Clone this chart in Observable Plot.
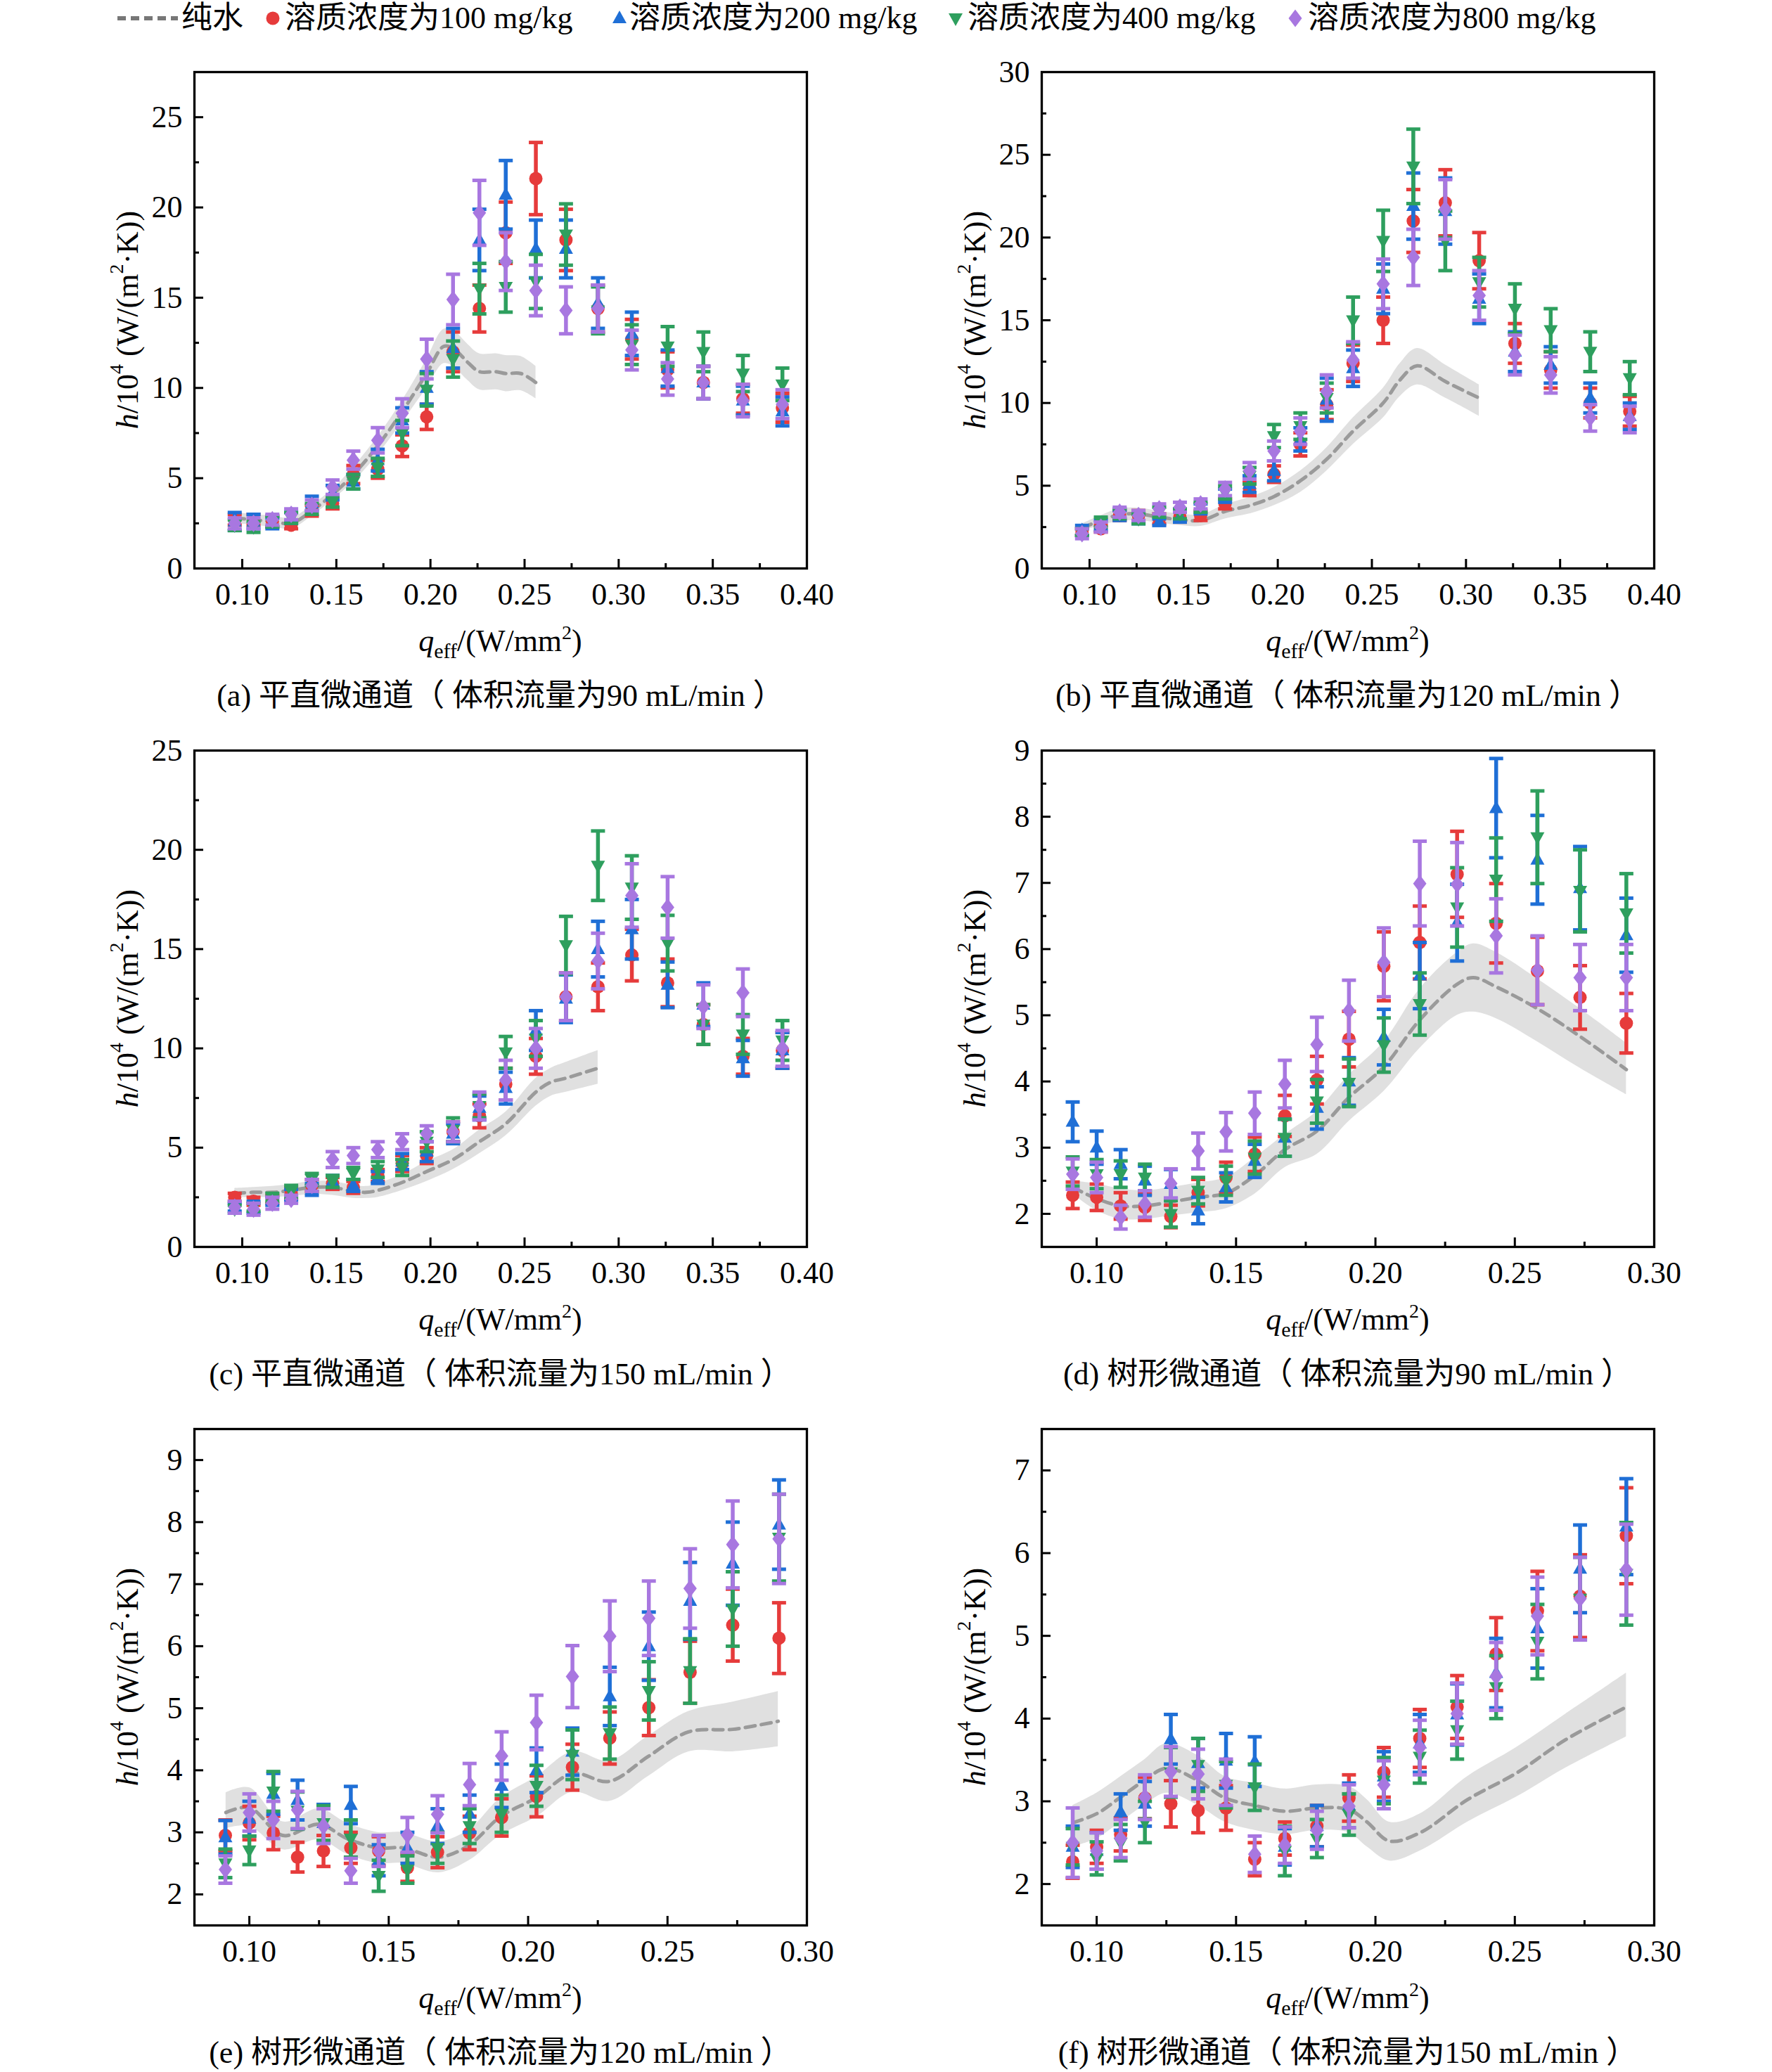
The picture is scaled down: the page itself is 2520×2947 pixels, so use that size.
<!DOCTYPE html>
<html><head><meta charset="utf-8">
<script src="https://cdn.jsdelivr.net/npm/d3@7"></script>
<script src="https://cdn.jsdelivr.net/npm/@observablehq/plot@0.6"></script>
<style>
html,body{margin:0;padding:0;background:#fff;}
#page{position:relative;width:2520px;height:2947px;overflow:hidden;font-family:"Liberation Serif","Noto Sans CJK SC",serif;color:#000;background:#fff;}
.panel{position:absolute;}
.caption{position:absolute;font-size:44px;white-space:pre;transform:translate(-50%,-50%);line-height:1;}
.legtext{position:absolute;top:26px;transform:translateY(-50%);font-size:44px;white-space:nowrap;line-height:1;}
.legsym{position:absolute;}
</style></head>
<body><div id="page"></div>
<script>
// ---------------- data ----------------
const seriesNames = ["纯水", "溶质浓度为100 mg/kg", "溶质浓度为200 mg/kg", "溶质浓度为400 mg/kg", "溶质浓度为800 mg/kg"];
const captions = [
  "(a) 平直微通道（ 体积流量为90 mL/min ）",
  "(b) 平直微通道（ 体积流量为120 mL/min ）",
  "(c) 平直微通道（ 体积流量为150 mL/min ）",
  "(d) 树形微通道（ 体积流量为90 mL/min ）",
  "(e) 树形微通道（ 体积流量为120 mL/min ）",
  "(f) 树形微通道（ 体积流量为150 mL/min ）"
];
const xTicksStraight = [0.10, 0.15, 0.20, 0.25, 0.30, 0.35, 0.40];
const xMinorStraight = [0.125, 0.175, 0.225, 0.275, 0.325, 0.375];
const xTicksTree = [0.10, 0.15, 0.20, 0.25, 0.30];
const xMinorTree = [0.125, 0.175, 0.225, 0.275];
const yTicksA = [0, 5, 10, 15, 20, 25];
const yMinorA = [2.5, 7.5, 12.5, 17.5, 22.5];
const yTicksB = [0, 5, 10, 15, 20, 25, 30];
const yMinorB = [2.5, 7.5, 12.5, 17.5, 22.5, 27.5];
const yTicksC = [0, 5, 10, 15, 20, 25];
const yMinorC = [2.5, 7.5, 12.5, 17.5, 22.5];
const yTicksD = [2, 3, 4, 5, 6, 7, 8, 9];
const yMinorD = [2.5, 3.5, 4.5, 5.5, 6.5, 7.5, 8.5];
const yTicksE = [2, 3, 4, 5, 6, 7, 8, 9];
const yMinorE = [2.5, 3.5, 4.5, 5.5, 6.5, 7.5, 8.5];
const yTicksF = [2, 3, 4, 5, 6, 7];
const yMinorF = [2.5, 3.5, 4.5, 5.5, 6.5];

const xStraight = [0.096,0.106,0.116,0.126,0.137,0.148,0.159,0.172,0.185,0.198,0.212,0.226,0.240,0.256,0.272,0.289,0.307,0.326,0.345,0.366,0.387];
const xTree = [0.0914,0.100,0.1086,0.1173,0.1266,0.1364,0.1464,0.1567,0.1675,0.179,0.1905,0.203,0.2159,0.2293,0.2433,0.2581,0.2734,0.290];

// panel (a)
const a_c100  = [2.7,2.7,2.6,2.4,3.2,3.6,5.2,5.5,6.8,8.4,12.0,14.4,18.6,21.6,18.2,14.4,12.7,11.0,10.3,9.4,8.9];
const a_c100e = [0.3,0.3,0.3,0.2,0.3,0.3,0.5,0.5,0.6,0.7,1.1,1.3,1.7,2.0,1.7,1.3,1.1,1.0,0.9,0.8,0.8];
const a_c200  = [2.6,2.6,2.5,2.8,3.6,4.2,4.8,6.0,8.2,10.0,12.2,18.2,20.7,17.7,17.7,14.7,13.0,11.1,10.3,9.3,8.7];
const a_c200e = [0.5,0.4,0.3,0.3,0.4,0.4,0.4,0.6,0.7,0.9,1.1,1.7,1.9,1.6,1.6,1.4,1.2,1.0,0.9,0.8,0.8];
const a_c400  = [2.4,2.3,2.6,2.8,3.3,3.7,4.8,5.6,7.5,9.9,11.6,15.5,15.6,15.9,18.5,14.3,12.4,12.3,12.0,10.8,10.2];
const a_c400e = [0.3,0.3,0.3,0.3,0.3,0.3,0.4,0.5,0.7,0.9,1.0,1.4,1.4,1.5,1.7,1.3,1.1,1.1,1.1,1.0,0.9];
const a_c800  = [2.5,2.5,2.7,3.0,3.5,4.5,6.0,7.1,8.6,11.6,14.9,19.7,17.0,15.4,14.3,14.4,12.1,10.5,10.3,9.3,9.1];
const a_c800e = [0.3,0.3,0.3,0.3,0.3,0.4,0.5,0.7,0.8,1.1,1.4,1.8,1.6,1.4,1.3,1.3,1.1,0.9,0.9,0.9,0.8];
const a_wx  = [0.096,0.106,0.116,0.126,0.137,0.148,0.159,0.172,0.185,0.198,0.207,0.212,0.220,0.226,0.235,0.240,0.248,0.256];
const a_wy  = [2.8,2.7,2.6,2.5,3.2,4.1,5.2,6.8,8.7,10.8,12.3,12.2,11.4,10.9,10.9,10.8,10.8,10.3];
const a_wlo = [2.5,2.4,2.3,2.2,2.9,3.8,4.8,6.3,8.1,10.0,11.35,11.2,10.4,9.9,9.9,9.8,9.85,9.4];
const a_whi = [3.1,3.0,2.9,2.8,3.5,4.4,5.6,7.3,9.3,11.6,13.25,13.2,12.4,11.9,11.9,11.8,11.75,11.2];

// panel (b)
const b_c100  = [2.2,2.4,3.2,3.2,3.0,3.1,3.2,3.9,4.8,5.7,7.5,9.9,12.4,15.0,21.0,22.1,18.6,13.6,12.0,10.0,9.5];
const b_c100e = [0.2,0.2,0.3,0.3,0.3,0.3,0.3,0.3,0.4,0.5,0.7,0.9,1.1,1.4,1.9,2.0,1.7,1.2,1.1,0.9,0.9];
const b_c200  = [2.3,2.6,3.2,3.0,2.8,3.1,3.6,4.4,5.1,5.9,7.8,10.2,12.1,16.9,21.9,21.6,16.3,13.1,12.3,10.3,9.2];
const b_c200e = [0.3,0.3,0.3,0.3,0.2,0.3,0.3,0.4,0.5,0.6,0.7,1.3,1.1,1.5,2.0,2.0,1.5,1.2,1.1,0.9,0.8];
const b_c400  = [2.2,2.8,3.3,3.0,3.4,3.3,3.7,4.6,5.6,8.0,8.6,10.3,15.0,19.8,24.3,19.8,17.3,15.7,14.4,13.1,11.5];
const b_c400e = [0.2,0.3,0.3,0.3,0.3,0.3,0.3,0.4,0.5,0.7,0.8,0.9,1.4,1.85,2.25,1.8,1.5,1.5,1.3,1.2,1.0];
const b_c800  = [2.1,2.5,3.4,3.2,3.6,3.7,3.9,4.8,5.9,7.1,8.3,10.7,12.6,17.2,18.8,21.7,16.5,12.9,11.7,9.1,9.0];
const b_c800e = [0.3,0.3,0.3,0.3,0.3,0.3,0.3,0.4,0.5,0.6,0.8,1.0,1.1,1.5,1.7,1.8,1.5,1.2,1.1,0.8,0.8];
const b_wx  = [0.096,0.106,0.116,0.126,0.137,0.148,0.159,0.172,0.185,0.198,0.212,0.226,0.240,0.256,0.265,0.274,0.289,0.307];
const b_wy  = [2.45,2.9,3.25,3.3,3.1,2.95,2.9,3.45,3.8,4.35,5.3,6.6,8.3,10.0,11.4,12.25,11.3,10.3];
const b_wlo = [2.25,2.6,2.85,2.9,2.75,2.6,2.55,3.0,3.3,3.8,4.6,5.9,7.5,9.1,10.4,11.1,10.3,9.2];
const b_whi = [2.7,3.2,3.6,3.65,3.45,3.3,3.25,3.85,4.3,4.9,5.9,7.3,9.1,10.9,12.4,13.3,12.3,11.1];

// panel (c)
const c_c100  = [2.5,2.3,2.4,2.7,3.1,3.2,3.0,3.6,4.2,4.6,5.8,6.6,8.2,9.6,12.6,13.1,14.7,13.3,11.2,9.6,9.9];
const c_c100e = [0.2,0.2,0.2,0.3,0.3,0.3,0.3,0.3,0.4,0.4,0.5,0.6,0.8,0.9,1.2,1.2,1.3,1.2,1.0,0.9,0.9];
const c_c200  = [2.0,2.0,2.3,2.6,2.9,3.3,3.1,3.5,4.3,4.8,5.7,7.0,8.0,10.9,12.5,15.0,16.0,13.2,12.2,9.5,9.9];
const c_c200e = [0.2,0.3,0.2,0.3,0.3,0.3,0.3,0.3,0.4,0.5,0.5,0.6,0.8,1.0,1.2,1.4,1.5,1.15,1.1,0.9,0.9];
const c_c400  = [1.9,2.0,2.5,2.8,3.4,3.3,3.7,3.9,4.0,5.3,5.9,7.1,9.8,10.5,15.2,19.2,18.1,15.3,11.2,10.7,10.4];
const c_c400e = [0.2,0.2,0.2,0.3,0.3,0.3,0.3,0.4,0.4,0.5,0.6,0.6,0.8,0.9,1.45,1.75,1.6,1.4,1.0,1.0,1.0];
const c_c800  = [2.0,1.9,2.2,2.4,3.1,4.4,4.6,4.9,5.3,5.7,5.8,7.1,8.4,10.0,12.6,14.4,17.7,17.1,12.1,12.8,10.0];
const c_c800e = [0.3,0.3,0.3,0.2,0.3,0.4,0.4,0.4,0.4,0.4,0.5,0.7,1.0,1.0,1.2,1.4,1.6,1.55,1.1,1.2,0.9];
const c_wx  = [0.096,0.106,0.116,0.126,0.137,0.148,0.159,0.166,0.172,0.185,0.198,0.212,0.226,0.240,0.256,0.264,0.272,0.289];
const c_wy  = [2.7,2.75,2.75,2.85,3.0,3.0,2.8,2.75,2.85,3.25,3.8,4.4,5.3,6.2,7.8,8.3,8.5,9.0];
const c_wlo = [2.5,2.5,2.5,2.55,2.65,2.6,2.45,2.45,2.5,2.85,3.3,3.9,4.7,5.6,7.1,7.6,7.8,8.2];
const c_whi = [2.95,3.0,3.05,3.15,3.3,3.3,3.1,3.05,3.2,3.65,4.3,4.9,5.9,6.8,8.5,9.0,9.3,9.9];

// panel (d)
const d_c100  = [2.28,2.25,2.12,2.1,1.96,2.32,2.55,2.9,3.48,4.02,4.64,5.74,6.1,7.13,6.39,5.67,5.27,4.88];
const d_c100e = [0.2,0.2,0.2,0.2,0.17,0.2,0.23,0.26,0.31,0.36,0.42,0.52,0.55,0.65,0.6,0.51,0.48,0.45];
const d_c200  = [3.39,3.0,2.75,2.5,2.45,2.05,2.4,2.8,3.15,3.6,4.0,4.67,5.6,6.4,8.13,7.35,6.92,6.21];
const d_c200e = [0.3,0.25,0.22,0.22,0.22,0.2,0.22,0.25,0.28,0.32,0.36,0.42,0.5,0.58,0.75,0.67,0.63,0.56];
const d_c400  = [2.64,2.6,2.6,2.55,2.0,2.35,2.5,2.85,3.15,3.7,3.98,4.55,5.17,6.63,7.05,7.69,6.88,6.54];
const d_c400e = [0.22,0.22,0.2,0.2,0.2,0.2,0.22,0.25,0.28,0.33,0.36,0.41,0.47,0.6,0.63,0.7,0.62,0.6];
const d_c800  = [2.6,2.55,1.95,2.15,2.46,2.95,3.24,3.52,3.96,4.56,5.07,5.8,6.99,6.98,6.2,5.68,5.57,5.57];
const d_c800e = [0.23,0.23,0.18,0.2,0.22,0.27,0.29,0.32,0.36,0.41,0.46,0.52,0.64,0.63,0.56,0.52,0.5,0.5];
const d_wx  = [0.0914,0.100,0.1086,0.1173,0.1266,0.1364,0.1464,0.1567,0.1675,0.179,0.1905,0.203,0.2159,0.2293,0.2351,0.2433,0.2581,0.2734,0.290];
const d_wy  = [2.4,2.23,2.12,2.12,2.18,2.25,2.31,2.58,2.97,3.25,3.76,4.22,4.93,5.47,5.57,5.43,5.1,4.68,4.18];
const d_wlo = [2.3,2.05,1.92,1.92,1.97,2.02,2.08,2.3,2.7,2.9,3.4,3.85,4.5,5.0,5.05,4.95,4.6,4.2,3.8];
const d_whi = [2.5,2.45,2.38,2.35,2.4,2.47,2.55,2.85,3.2,3.55,4.1,4.6,5.4,5.95,6.08,5.95,5.55,5.1,4.58];

// panel (e)
const e_c100  = [2.95,3.15,2.99,2.6,2.7,2.75,2.7,2.43,2.68,2.99,3.24,3.58,4.05,4.52,5.01,5.58,6.34,6.13];
const e_c100e = [0.25,0.27,0.27,0.24,0.25,0.25,0.23,0.22,0.25,0.27,0.3,0.33,0.37,0.42,0.45,0.5,0.58,0.57];
const e_c200  = [2.92,3.22,3.62,3.52,3.15,3.44,2.55,2.75,3.1,3.3,3.75,4.0,4.3,5.19,6.0,6.73,7.33,7.96];
const e_c200e = [0.27,0.28,0.33,0.32,0.3,0.3,0.25,0.25,0.28,0.3,0.35,0.36,0.38,0.47,0.55,0.62,0.67,0.72];
const e_c400  = [2.5,2.71,3.66,3.35,3.15,2.9,2.3,2.4,2.75,3.1,3.3,3.75,4.25,4.6,5.28,5.6,6.6,7.75];
const e_c400e = [0.23,0.23,0.32,0.3,0.28,0.3,0.25,0.22,0.25,0.28,0.3,0.33,0.4,0.42,0.47,0.52,0.6,0.7];
const e_c800  = [2.4,3.32,3.2,3.36,3.1,2.38,2.7,2.96,3.29,3.77,4.23,4.77,5.51,6.16,6.45,6.93,7.64,7.73];
const e_c800e = [0.22,0.3,0.3,0.3,0.28,0.2,0.25,0.28,0.3,0.34,0.39,0.44,0.5,0.57,0.6,0.64,0.7,0.72];
const e_wx  = [0.0916,0.100,0.112,0.125,0.135,0.146,0.155,0.168,0.179,0.190,0.203,0.216,0.229,0.243,0.2576,0.2734,0.2897];
const e_wy  = [3.32,3.4,2.95,3.13,2.9,2.75,2.75,2.6,2.8,3.25,3.56,3.95,3.82,4.22,4.62,4.66,4.79];
const e_wlo = [3.06,3.1,2.72,2.88,2.65,2.5,2.5,2.35,2.55,2.95,3.25,3.65,3.5,3.9,4.3,4.3,4.38];
const e_whi = [3.64,3.72,3.17,3.38,3.15,3.0,3.0,2.85,3.05,3.55,3.9,4.3,4.15,4.55,4.95,5.1,5.27];

// panel (f)
const f_c100  = [2.27,2.45,2.6,3.04,2.97,2.89,2.92,2.3,2.55,2.7,3.04,3.35,3.76,4.14,4.78,5.3,5.48,6.21];
const f_c100e = [0.2,0.2,0.2,0.25,0.28,0.27,0.27,0.2,0.2,0.25,0.28,0.3,0.35,0.38,0.44,0.48,0.5,0.58];
const f_c200  = [2.45,2.4,2.87,2.97,3.75,3.46,3.49,3.48,2.45,2.7,2.95,3.3,3.7,4.05,4.55,5.09,5.81,6.32];
const f_c200e = [0.25,0.22,0.22,0.27,0.3,0.3,0.33,0.3,0.22,0.25,0.27,0.3,0.35,0.37,0.42,0.48,0.53,0.58];
const f_c400  = [2.45,2.31,2.5,2.75,3.35,3.44,3.2,3.17,2.4,2.55,2.84,3.25,3.54,3.86,4.38,4.93,5.45,5.75];
const f_c400e = [0.22,0.2,0.22,0.25,0.3,0.32,0.28,0.28,0.3,0.23,0.25,0.28,0.32,0.35,0.38,0.45,0.5,0.62];
const f_c800  = [2.5,2.4,2.55,3.05,3.36,3.33,3.23,2.36,2.47,2.65,2.94,3.2,3.65,4.06,4.51,5.24,5.45,5.8];
const f_c800e = [0.42,0.22,0.23,0.27,0.3,0.3,0.28,0.22,0.22,0.23,0.26,0.29,0.33,0.37,0.41,0.47,0.5,0.55];
const f_wx  = [0.0914,0.100,0.1086,0.117,0.125,0.1364,0.146,0.1567,0.1675,0.179,0.1905,0.197,0.205,0.216,0.233,0.2505,0.268,0.290];
const f_wy  = [2.74,2.85,3.05,3.25,3.4,3.25,3.04,2.95,2.88,2.92,2.9,2.75,2.52,2.62,3.02,3.34,3.74,4.14];
const f_wlo = [2.45,2.55,2.75,2.95,3.1,2.95,2.75,2.65,2.6,2.65,2.62,2.45,2.28,2.4,2.75,3.05,3.4,3.78];
const f_whi = [2.95,3.1,3.3,3.5,3.7,3.55,3.3,3.22,3.15,3.2,3.18,3.02,2.75,2.85,3.3,3.65,4.05,4.55];

// ---------------- styling ----------------
const FONT = '"Liberation Serif","Times New Roman","Noto Sans CJK SC",serif';
const COLORS = ["#E63B3B", "#1F6FD6", "#2E9F5E", "#A877E0"];
const WATER_LINE = "#9a9a9a", WATER_BAND = "#e0e0e0";
const CAP = {draw(ctx) { ctx.moveTo(-10, 0); ctx.lineTo(10, 0); }};
const TRI_UP = {draw(ctx) { ctx.moveTo(0, -11); ctx.lineTo(10, 7); ctx.lineTo(-10, 7); ctx.closePath(); }};
const TRI_DOWN = {draw(ctx) { ctx.moveTo(0, 11); ctx.lineTo(10, -7); ctx.lineTo(-10, -7); ctx.closePath(); }};
const DIAMOND = {draw(ctx) { ctx.moveTo(0, -12.5); ctx.lineTo(9.5, 0); ctx.lineTo(0, 12.5); ctx.lineTo(-9.5, 0); ctx.closePath(); }};
const SYMBOLS = [{symbol: "circle", r: 9.5}, {symbol: TRI_UP, r: 8}, {symbol: TRI_DOWN, r: 8}, {symbol: DIAMOND, r: 8}];

const W = 1100, H = 886, ML = 160, MR = 69, MT = 40, MB = 140;
const FW = W - ML - MR, FH = H - MT - MB;

const panels = [
  {left: 116, top: 62, x: xStraight, xd: [0.0746, 0.40], yd: [0, 27.5], xt: xTicksStraight, xm: xMinorStraight, yt: yTicksA, ym: yMinorA,
   s: [[a_c100, a_c100e], [a_c200, a_c200e], [a_c400, a_c400e], [a_c800, a_c800e]], w: [a_wx, a_wy, a_wlo, a_whi], cap: captions[0]},
  {left: 1321, top: 62, x: xStraight, xd: [0.0746, 0.40], yd: [0, 30], xt: xTicksStraight, xm: xMinorStraight, yt: yTicksB, ym: yMinorB,
   s: [[b_c100, b_c100e], [b_c200, b_c200e], [b_c400, b_c400e], [b_c800, b_c800e]], w: [b_wx, b_wy, b_wlo, b_whi], cap: captions[1]},
  {left: 116, top: 1027, x: xStraight, xd: [0.0746, 0.40], yd: [0, 25], xt: xTicksStraight, xm: xMinorStraight, yt: yTicksC, ym: yMinorC,
   s: [[c_c100, c_c100e], [c_c200, c_c200e], [c_c400, c_c400e], [c_c800, c_c800e]], w: [c_wx, c_wy, c_wlo, c_whi], cap: captions[2]},
  {left: 1321, top: 1027, x: xTree, xd: [0.0803, 0.30], yd: [1.5, 9], xt: xTicksTree, xm: xMinorTree, yt: yTicksD, ym: yMinorD,
   s: [[d_c100, d_c100e], [d_c200, d_c200e], [d_c400, d_c400e], [d_c800, d_c800e]], w: [d_wx, d_wy, d_wlo, d_whi], cap: captions[3]},
  {left: 116, top: 1992, x: xTree, xd: [0.0803, 0.30], yd: [1.5, 9.5], xt: xTicksTree, xm: xMinorTree, yt: yTicksE, ym: yMinorE,
   s: [[e_c100, e_c100e], [e_c200, e_c200e], [e_c400, e_c400e], [e_c800, e_c800e]], w: [e_wx, e_wy, e_wlo, e_whi], cap: captions[4]},
  {left: 1321, top: 1992, x: xTree, xd: [0.0803, 0.30], yd: [1.5, 7.5], xt: xTicksTree, xm: xMinorTree, yt: yTicksF, ym: yMinorF,
   s: [[f_c100, f_c100e], [f_c200, f_c200e], [f_c400, f_c400e], [f_c800, f_c800e]], w: [f_wx, f_wy, f_wlo, f_whi], cap: captions[5]}
];

const page = document.getElementById("page");

function makePanel(p) {
  const [wx, wy, wlo, whi] = p.w;
  const water = wx.map((x, i) => ({x, y: wy[i], lo: wlo[i], hi: whi[i]}));
  const marks = [
    Plot.areaY(water, {x: "x", y1: "lo", y2: "hi", fill: WATER_BAND, curve: "catmull-rom"}),
    Plot.line(water, {x: "x", y: "y", stroke: WATER_LINE, strokeWidth: 5, strokeDasharray: "14,9", curve: "catmull-rom"})
  ];
  p.s.forEach(([vals, errs], k) => {
    const rows = p.x.map((x, i) => ({x, v: vals[i], e: errs[i]}));
    const c = COLORS[k];
    marks.push(Plot.ruleX(rows, {x: "x", y1: d => d.v - d.e, y2: d => d.v + d.e, stroke: c, strokeWidth: 5.5}));
    marks.push(Plot.dot(rows, {x: "x", y: d => d.v + d.e, symbol: CAP, r: 5, fill: "none", stroke: c, strokeWidth: 5}));
    marks.push(Plot.dot(rows, {x: "x", y: d => d.v - d.e, symbol: CAP, r: 5, fill: "none", stroke: c, strokeWidth: 5}));
    marks.push(Plot.dot(rows, {x: "x", y: "v", symbol: SYMBOLS[k].symbol, r: SYMBOLS[k].r, fill: c, stroke: "none"}));
  });
  marks.push(
    Plot.axisX(p.xt, {anchor: "bottom", tickSize: 0, tickPadding: 20, tickFormat: d3.format(".2f"), label: null}),
    Plot.axisX(p.xt, {anchor: "bottom", tickSize: 13, dy: -13, tickFormat: () => "", label: null, strokeWidth: 3}),
    Plot.axisX(p.xm, {anchor: "bottom", tickSize: 7, dy: -7, tickFormat: () => "", label: null, strokeWidth: 3}),
    Plot.axisY(p.yt, {anchor: "left", tickSize: 0, tickPadding: 17, tickFormat: d => String(d), label: null}),
    Plot.axisY(p.yt, {anchor: "left", tickSize: 13, dx: 13, tickFormat: () => "", label: null, strokeWidth: 3}),
    Plot.axisY(p.ym, {anchor: "left", tickSize: 7, dx: 7, tickFormat: () => "", label: null, strokeWidth: 3}),
    Plot.frame({stroke: "#000", strokeWidth: 3.3})
  );
  const svg = Plot.plot({
    width: W, height: H, marginLeft: ML, marginRight: MR, marginTop: MT, marginBottom: MB,
    x: {domain: p.xd}, y: {domain: p.yd},
    style: {fontFamily: FONT, fontSize: "44px", background: "transparent", color: "#000", overflow: "visible"},
    marks
  });
  const g = d3.select(svg);
  const yl = g.append("text")
    .attr("transform", `translate(${ML - 95},${MT + FH / 2}) rotate(-90)`)
    .attr("text-anchor", "middle").attr("dominant-baseline", "central")
    .attr("font-size", 44).attr("font-family", FONT).attr("fill", "#000");
  yl.append("tspan").attr("font-style", "italic").text("h");
  yl.append("tspan").text("/10");
  yl.append("tspan").attr("dy", -16).attr("font-size", 28).text("4");
  yl.append("tspan").attr("dy", 16).text(" (W/(m");
  yl.append("tspan").attr("dy", -16).attr("font-size", 28).text("2");
  yl.append("tspan").attr("dy", 16).text("·K))");
  const xl = g.append("text")
    .attr("x", ML + FW / 2).attr("y", MT + FH + 118)
    .attr("text-anchor", "middle")
    .attr("font-size", 44).attr("font-family", FONT).attr("fill", "#000");
  xl.append("tspan").attr("font-style", "italic").text("q");
  xl.append("tspan").attr("dy", 10).attr("font-size", 30).text("eff");
  xl.append("tspan").attr("dy", -10).text("/(W/mm");
  xl.append("tspan").attr("dy", -17).attr("font-size", 28).text("2");
  xl.append("tspan").attr("dy", 17).text(")");

  const holder = document.createElement("div");
  holder.className = "panel";
  holder.style.left = p.left + "px";
  holder.style.top = p.top + "px";
  holder.appendChild(svg);
  page.appendChild(holder);

  const cap = document.createElement("div");
  cap.className = "caption";
  cap.style.left = (p.left + ML + FW / 2) + "px";
  cap.style.top = (p.top + MT + FH + 182) + "px";
  cap.textContent = p.cap;
  page.appendChild(cap);
}
panels.forEach(makePanel);

// ---------------- legend ----------------
function legSym(left, inner, w) {
  const d = document.createElement("div");
  d.className = "legsym";
  d.style.left = left + "px";
  d.style.top = (26 - 15) + "px";
  d.innerHTML = `<svg width="${w}" height="30" viewBox="0 0 ${w} 30">${inner}</svg>`;
  page.appendChild(d);
}
function legText(left, t) {
  const d = document.createElement("div");
  d.className = "legtext";
  d.style.left = left + "px";
  d.textContent = t;
  page.appendChild(d);
}
legSym(167, `<line x1="0" y1="15" x2="86" y2="15" stroke="#777" stroke-width="6" stroke-dasharray="12,7"/>`, 90);
legText(258, seriesNames[0]);
legSym(376, `<circle cx="12" cy="15" r="9.5" fill="${COLORS[0]}"/>`, 24);
legText(405, seriesNames[1]);
legSym(869, `<path d="M12,4 L22,22 L2,22 Z" fill="${COLORS[1]}"/>`, 24);
legText(895, seriesNames[2]);
legSym(1347, `<path d="M12,26 L22,8 L2,8 Z" fill="${COLORS[2]}"/>`, 24);
legText(1376, seriesNames[3]);
legSym(1830, `<path d="M12,2.5 L21.5,15 L12,27.5 L2.5,15 Z" fill="${COLORS[3]}"/>`, 24);
legText(1860, seriesNames[4]);
</script></body></html>
